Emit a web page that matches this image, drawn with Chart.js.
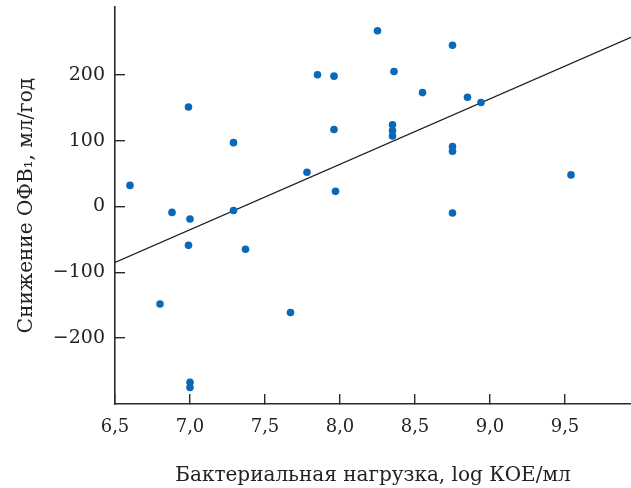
<!DOCTYPE html>
<html lang="ru">
<head>
    <meta charset="UTF-8">
    <title>Снижение ОФВ1 и бактериальная нагрузка</title>
    <script src="https://cdn.jsdelivr.net/npm/chart.js"></script>
    <style>
        html, body { margin: 0; padding: 0; background: #fff; }
        .wrap { width: 631px; height: 488px; }
    </style>
</head>
<body>
<div class="wrap">
    <canvas id="scatterChart" width="631" height="488"></canvas>
</div>
<script>
// bacterial load, log CFU/ml
const loadX = [6.60, 6.99, 7.29, 6.88, 7.00, 7.29, 7.78, 7.85, 6.99, 7.37,
               6.80, 7.67, 7.00, 7.00, 8.25, 8.75, 7.96, 8.36, 8.55, 8.85,
               8.94, 7.96, 8.35, 8.35, 8.35, 8.75, 8.75, 9.54, 7.97, 8.75];
// FEV1 decline, ml/year
const fevY  = [32, 151, 97, -9, -19, -6, 52, 200, -59, -65,
               -148, -161, -267, -275, 267, 245, 198, 205, 173, 166,
               158, 117, 124, 115, 107, 91, 84, 48, 23, -10];

// regression line end points
const fitX = [6.5, 9.94];
const fitY = [-85, 257];

const xTicks = [6.5, 7.0, 7.5, 8.0, 8.5, 9.0, 9.5];
const yTicks = [-200, -100, 0, 100, 200];

const serif = 'DejaVu Serif';
const ink = '#222';

const ctx = document.getElementById('scatterChart').getContext('2d');
const chart = new Chart(ctx, {
    type: 'scatter',
    data: {
        datasets: [
            {
                label: 'data',
                data: loadX.map((x, i) => ({ x: x, y: fevY[i] })),
                backgroundColor: '#0a68b8',
                borderWidth: 0,
                pointRadius: 3.8,
            },
            {
                type: 'line',
                label: 'fit',
                data: fitX.map((x, i) => ({ x: x, y: fitY[i] })),
                borderColor: '#1e1e1e',
                borderWidth: 1.4,
                pointRadius: 0,
                fill: false,
            }
        ]
    },
    options: {
        responsive: false,
        animation: false,
        layout: { autoPadding: false, padding: { top: 7, right: 0, left: 0, bottom: 0 } },
        plugins: {
            legend: { display: false },
            tooltip: { enabled: false }
        },
        scales: {
            x: {
                type: 'linear',
                min: 6.5,
                max: 9.94,
                afterBuildTicks: (s) => { s.ticks = xTicks.map(v => ({ value: v })); },
                afterFit: (s) => { s.height = 84; s.paddingLeft = 0; s.paddingRight = 0; },
                border: { display: true, color: '#2a2a2a', width: 1.6 },
                grid: { drawOnChartArea: false, drawTicks: true, tickLength: -10, color: '#2a2a2a', lineWidth: 1.4 },
                ticks: {
                    padding: 23,
                    color: ink,
                    font: { family: serif, size: 18 },
                    callback: (v) => v.toFixed(1).replace('.', ','),
                },
                title: {
                    display: true,
                    text: 'Бактериальная нагрузка, log КОЕ/мл',
                    color: ink,
                    font: { family: serif, size: 20 },
                    padding: { top: 0, bottom: 0 },
                }
            },
            y: {
                type: 'linear',
                min: -300,
                max: 303,
                afterBuildTicks: (s) => { s.ticks = yTicks.map(v => ({ value: v })); },
                afterFit: (s) => { s.width = 115; s.paddingTop = 0; s.paddingBottom = 0; },
                border: { display: true, color: '#2a2a2a', width: 1.6 },
                grid: { drawOnChartArea: false, drawTicks: true, tickLength: -10, color: '#2a2a2a', lineWidth: 1.4 },
                ticks: {
                    padding: 20,
                    color: ink,
                    font: { family: serif, size: 19 },
                    callback: (v) => v < 0 ? '\u2212' + Math.abs(v) : String(v),
                },
                title: {
                    display: true,
                    text: 'Снижение ОФВ\u2081, мл/год',
                    color: ink,
                    font: { family: serif, size: 20 },
                    padding: { top: 15, bottom: 0 },
                }
            }
        }
    }
});
</script>
</body>
</html>
